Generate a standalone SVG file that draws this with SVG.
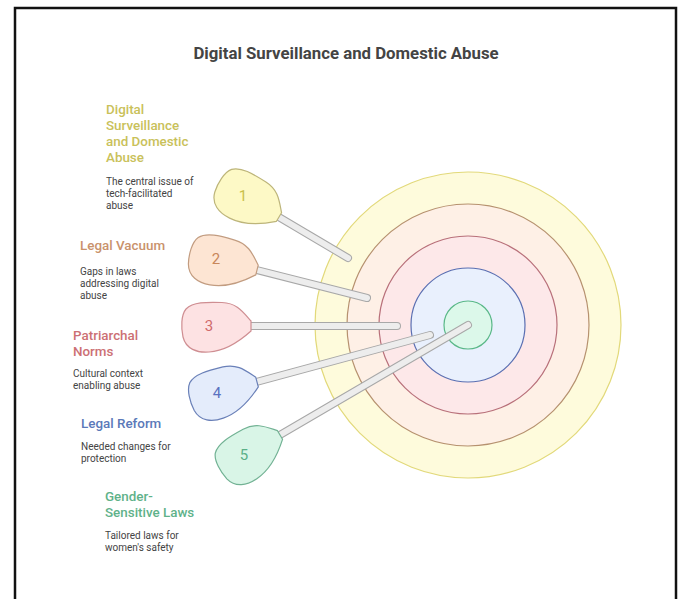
<svg xmlns="http://www.w3.org/2000/svg" width="679" height="599" viewBox="0 0 679 599">
  <defs>
    <!-- pin head pointing along +x, tip (stick attachment) at the origin -->
    <path id="pin" d="M 0,-5 C -8,-14 -14,-23 -29,-23.5 C -45,-24 -58,-24 -65,-17 C -70,-11 -70,2 -68,11 C -65,23 -54,27 -42,26 C -26,25 -10,14 0,5 Z"/>
  </defs>
  <style>
    text { font-family: Roboto, "Liberation Sans", sans-serif; }
    .title { font-size: 16.8px; font-weight: 700; fill: #444; text-anchor: middle; }
    .head { font-size: 13.4px; font-weight: 500; }
    .desc { font-size: 10px; fill: #444; }
    .num { font-size: 15px; text-anchor: middle; }
    .stick-out { stroke: #a8a8a8; stroke-width: 8; stroke-linecap: round; fill: none; }
    .stick-in { stroke: #ededed; stroke-width: 6; stroke-linecap: round; fill: none; }
    .ring { stroke-width: 1.2; }
    .pin { stroke-width: 1.2; }
  </style>

  <rect x="0" y="0" width="679" height="599" fill="#ffffff"/>
  <rect x="15" y="8" width="661" height="610" fill="none" stroke="#111" stroke-width="2.5"/>

  <text class="title" x="346" y="59">Digital Surveillance and Domestic Abuse</text>

  <!-- concentric target -->
  <g id="target">
    <circle class="ring" cx="468" cy="325" r="153" fill="#fefbdc" stroke="#e2d97a"/>
    <circle class="ring" cx="468" cy="325" r="121" fill="#fef0e6" stroke="#b6916f"/>
    <circle class="ring" cx="468" cy="325" r="89" fill="#fde8e9" stroke="#b8707a"/>
    <circle class="ring" cx="468" cy="325" r="57" fill="#e9f0fd" stroke="#5a6fb2"/>
    <circle class="ring" cx="468" cy="325" r="24" fill="#dcf8ea" stroke="#5ab888"/>
  </g>

  <!-- sticks from each pin into the target -->
  <g id="connectors">
    <line class="stick-out" x1="272" y1="213" x2="348" y2="258"/>
    <line class="stick-in" x1="272" y1="213" x2="348" y2="258"/>
    <line class="stick-out" x1="249" y1="268" x2="367" y2="298"/>
    <line class="stick-in" x1="249" y1="268" x2="367" y2="298"/>
    <line class="stick-out" x1="243" y1="326" x2="397" y2="326"/>
    <line class="stick-in" x1="243" y1="326" x2="397" y2="326"/>
    <line class="stick-out" x1="249" y1="384" x2="430" y2="335"/>
    <line class="stick-in" x1="249" y1="384" x2="430" y2="335"/>
    <line class="stick-out" x1="273" y1="439" x2="468" y2="325"/>
    <line class="stick-in" x1="273" y1="439" x2="468" y2="325"/>
  </g>

  <g id="node1">
    <use href="#pin" class="pin" transform="translate(279,217) rotate(30.5)" fill="#fdf9c6" stroke="#bdb57a"/>
    <text class="num" x="243" y="201" fill="#c9c04a">1</text>
    <text class="head" fill="#c9c15a">
      <tspan x="106" y="114">Digital</tspan>
      <tspan x="106" y="130">Surveillance</tspan>
      <tspan x="106" y="146">and Domestic</tspan>
      <tspan x="106" y="162">Abuse</tspan>
    </text>
    <text class="desc">
      <tspan x="106" y="185">The central issue of</tspan>
      <tspan x="106" y="197">tech-facilitated</tspan>
      <tspan x="106" y="209">abuse</tspan>
    </text>
  </g>

  <g id="node2">
    <use href="#pin" class="pin" transform="translate(257,270) rotate(14.3)" fill="#fde5d3" stroke="#c29c80"/>
    <text class="num" x="216" y="264" fill="#c8875a">2</text>
    <text class="head" x="80" y="250" fill="#c9926c">Legal Vacuum</text>
    <text class="desc">
      <tspan x="80" y="275">Gaps in laws</tspan>
      <tspan x="80" y="287">addressing digital</tspan>
      <tspan x="80" y="299">abuse</tspan>
    </text>
  </g>

  <g id="node3">
    <use href="#pin" class="pin" transform="translate(251,326)" fill="#fde2e3" stroke="#cf8e92"/>
    <text class="num" x="209" y="331" fill="#d06a6c">3</text>
    <text class="head" fill="#cc7074">
      <tspan x="73" y="340">Patriarchal</tspan>
      <tspan x="73" y="356">Norms</tspan>
    </text>
    <text class="desc">
      <tspan x="73" y="377">Cultural context</tspan>
      <tspan x="73" y="389">enabling abuse</tspan>
    </text>
  </g>

  <g id="node4">
    <use href="#pin" class="pin" transform="translate(257,382) rotate(-15.2)" fill="#e4ecfb" stroke="#6a80b8"/>
    <text class="num" x="217" y="398" fill="#5a72c0">4</text>
    <text class="head" x="81" y="428" fill="#5b79b9">Legal Reform</text>
    <text class="desc">
      <tspan x="81" y="450">Needed changes for</tspan>
      <tspan x="81" y="462">protection</tspan>
    </text>
  </g>

  <g id="node5">
    <use href="#pin" class="pin" transform="translate(280,435) rotate(-30.3)" fill="#d9f5e7" stroke="#72b294"/>
    <text class="num" x="244" y="460" fill="#5ab088">5</text>
    <text class="head" fill="#5fb28a">
      <tspan x="105" y="501">Gender-</tspan>
      <tspan x="105" y="517">Sensitive Laws</tspan>
    </text>
    <text class="desc">
      <tspan x="105" y="539">Tailored laws for</tspan>
      <tspan x="105" y="551">women's safety</tspan>
    </text>
  </g>
</svg>
